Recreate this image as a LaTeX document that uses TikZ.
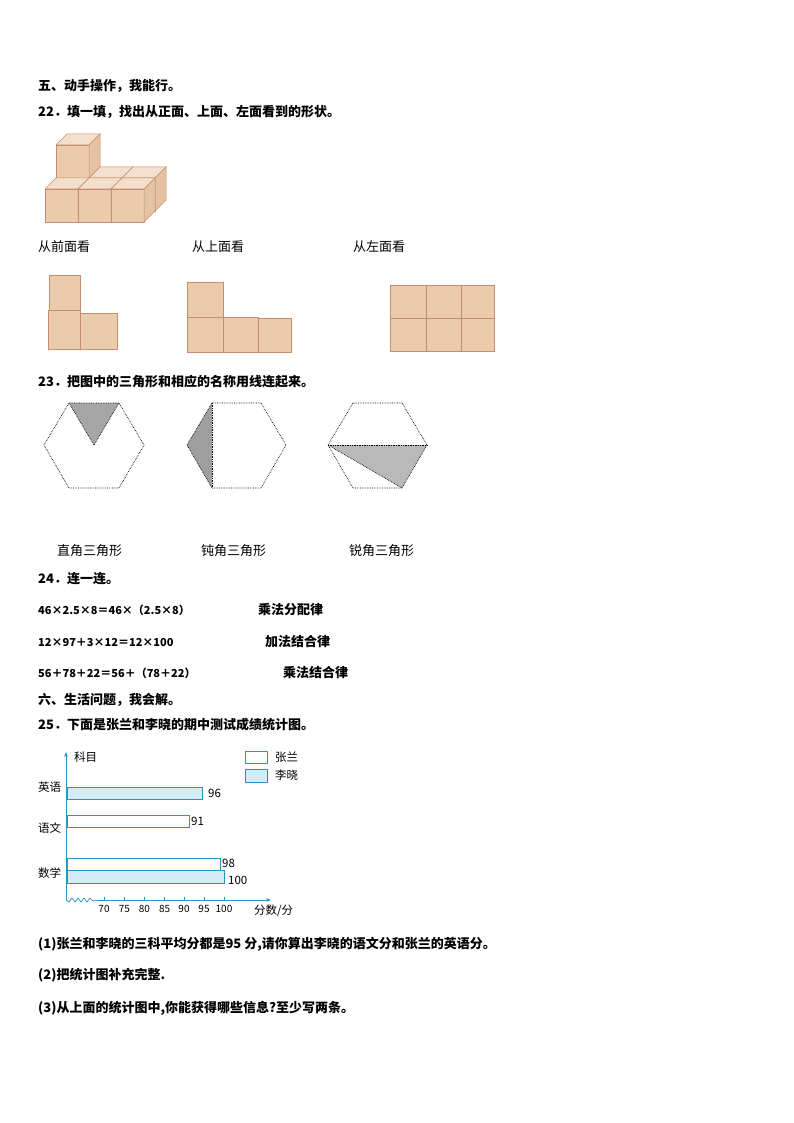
\documentclass[tikz,border=0pt]{standalone}
\usepackage{fontspec}
\setmainfont{Noto Sans CJK SC}
\usetikzlibrary{arrows.meta}
\definecolor{cf}{RGB}{234,204,172}
\definecolor{ct}{RGB}{243,224,204}
\definecolor{cs}{RGB}{228,195,165}
\definecolor{ce}{RGB}{200,140,110}
\definecolor{bf}{RGB}{212,236,248}
\definecolor{be}{RGB}{40,150,190}
\tikzset{txt/.style={anchor=west,inner sep=0pt,font=\fontsize{13}{15}\selectfont},
 btxt/.style={txt,font=\fontsize{13}{15}\selectfont\bfseries},
 etxt/.style={txt,font=\fontsize{11}{13}\selectfont\bfseries},
 sq/.style={fill=cf,draw=ce,line width=0.6pt},
 hexl/.style={densely dotted,line width=0.7pt},
 bar/.style={draw=be,line width=0.6pt},
 small/.style={anchor=west,inner sep=0pt,font=\fontsize{11.5}{13}\selectfont}}
\newcommand{\mycube}[2]{%
 \fill[cf,draw=ce,line width=0.5pt] (#1,#2) rectangle ++(33,-33);
 \fill[ct,draw=ce,line width=0.5pt] (#1,#2-33) -- ++(11,-11) -- ++(33,0) -- ++(-11,11) -- cycle;
 \fill[cs,draw=ce,line width=0.5pt] (#1+33,#2) -- ++(11,-11) -- ++(0,-33) -- ++(-11,11) -- cycle;}
\begin{document}
\begin{tikzpicture}[x=1pt,y=-1pt]
\useasboundingbox (0,0) rectangle (794,1123);
\node[btxt] (h5) at (38,86) {五、动手操作，我能行。};
\node[btxt] (q22) at (38,112) {22．填一填，找出从正面、上面、左面看到的形状。};
% 3D cubes
\mycube{56}{211}
\mycube{89}{211}
\mycube{122}{211}
\mycube{56}{178}
\mycube{45}{222}
\mycube{78}{222}
\mycube{111}{222}
\node[txt] (l1) at (38,247) {从前面看};
\node[txt] (l2) at (192,247) {从上面看};
\node[txt] (l3) at (353,247) {从左面看};
% front view
\draw[sq] (49,275) rectangle (80,310);
\draw[sq] (48,310) rectangle (80,349);
\draw[sq] (80,313) rectangle (117,349);
% top view
\draw[sq] (187,282) rectangle (223,317);
\draw[sq] (187,317) rectangle (223,352);
\draw[sq] (223,317) rectangle (258,352);
\draw[sq] (258,318) rectangle (291,352);
% left view
\foreach \a/\b in {390/426,426/461,461/494}{
 \draw[sq] (\a,285) rectangle (\b,318);
 \draw[sq] (\a,318) rectangle (\b,351);}
\node[btxt] (q23) at (38,382) {23．把图中的三角形和相应的名称用线连起来。};
% hexagons
\fill[gray!70] (69,403) -- (119,403) -- (94,445) -- cycle;
\draw[hexl] (69,403) -- (119,403) -- (144,445) -- (119,488) -- (69,488) -- (44,445) -- cycle;
\draw[hexl] (69,403) -- (94,445) -- (119,403);
\fill[gray!75] (212,403) -- (187,445) -- (212,488) -- cycle;
\draw[hexl] (212,403) -- (261,403) -- (286,445) -- (261,488) -- (212,488) -- (187,445) -- cycle;
\draw[hexl] (212,403) -- (212,488);
\fill[gray!55] (328,445) -- (427,445) -- (402,488) -- cycle;
\draw[hexl] (353,403) -- (402,403) -- (427,445) -- (402,488) -- (353,488) -- (328,445) -- cycle;
\draw[hexl] (328,445) -- (427,445);
\draw[hexl] (328,445) -- (402,488);
\node[txt] (n1) at (57,551) {直角三角形};
\node[txt] (n2) at (201,551) {钝角三角形};
\node[txt] (n3) at (349,551) {锐角三角形};
\node[btxt] (q24) at (38,579) {24．连一连。};
\node[etxt] (e1) at (38,610) {46×2.5×8＝46×（2.5×8）};
\node[btxt] (r1) at (258,610) {乘法分配律};
\node[etxt] (e2) at (38,642) {12×97＋3×12＝12×100};
\node[btxt] (r2) at (265,642) {加法结合律};
\node[etxt] (e3) at (38,673) {56＋78＋22＝56＋（78＋22）};
\node[btxt] (r3) at (283,673) {乘法结合律};
\node[btxt] (h6) at (38,700) {六、生活问题，我会解。};
\node[btxt] (q25) at (38,725) {25．下面是张兰和李晓的期中测试成绩统计图。};
% chart
\coordinate (o) at (66,900);
\coordinate (ytop) at (66,752);
\coordinate (xend) at (271,900);
\draw[be,line width=0.7pt,-{Stealth[length=5pt]}] (o) -- (ytop);
\draw[be,line width=0.7pt] (o) -- (69,902) -- (72,898) -- (75,902) -- (78,898) -- (81,902) -- (84,898) -- (87,902) -- (90,898) -- (93,901) -- (97,900);
\draw[be,line width=0.7pt,-{Stealth[length=5pt]}] (97,900) -- (xend);
\foreach \x/\v in {104/70,124.3/75,144.3/80,164.7/85,184/90,204/95,224/100}{
 \draw[be,line width=0.6pt] (\x,900) -- (\x,897);
 \node[font=\fontsize{10}{12}\selectfont,inner sep=0pt] at (\x,909) {\v};}
\node[small] (xl) at (254,911) {分数/分};
\node[small] (yl) at (74,757) {科目};
\node[small] (c1) at (38,787) {英语};
\node[small] (c2) at (38,828) {语文};
\node[small] (c3) at (38,873) {数学};
\draw[bar,fill=bf] (67,787) rectangle (202,799);
\node[small] (v96) at (208,793) {96};
\draw[bar,fill=white] (67,815) rectangle (189,827);
\node[small] (v91) at (191,821) {91};
\draw[bar,fill=white] (67,858) rectangle (220,870);
\node[small] (v98) at (222,863) {98};
\draw[bar,fill=bf] (67,870) rectangle (224,883);
\node[small] (v100) at (228,880) {100};
\draw[bar,fill=white] (245,751) rectangle (267,763);
\node[small] (lg1) at (275,757) {张兰};
\draw[bar,fill=bf] (245,769) rectangle (267,782);
\node[small] (lg2) at (275,775) {李晓};
\node[btxt] (p1) at (38,944) {(1)张兰和李晓的三科平均分都是95 分,请你算出李晓的语文分和张兰的英语分。};
\node[btxt] (p2) at (38,975) {(2)把统计图补充完整.};
\node[btxt] (p3) at (38,1008) {(3)从上面的统计图中,你能获得哪些信息?至少写两条。};
\end{tikzpicture}
\end{document}
